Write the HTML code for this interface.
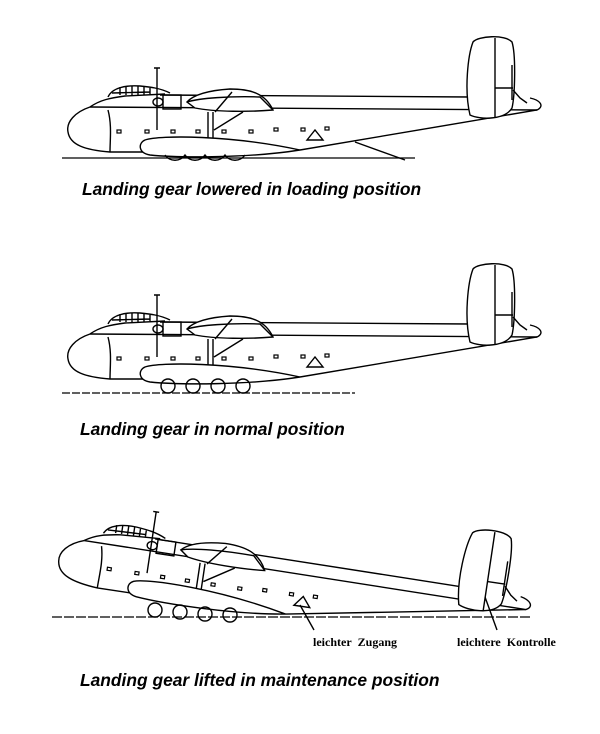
<!DOCTYPE html>
<html><head><meta charset="utf-8"><style>
html,body{margin:0;padding:0;background:#fff;}
.c{position:relative;width:600px;height:734px;overflow:hidden;}
svg{position:absolute;left:0;top:0;}
.cap{position:absolute;font-family:"Liberation Sans",sans-serif;font-weight:bold;font-style:italic;font-size:17.4px;color:#000;white-space:nowrap;}
.de{position:absolute;font-family:"Liberation Serif",serif;font-weight:bold;font-size:12px;color:#000;white-space:nowrap;}
</style></head><body><div class="c">
<svg width="600" height="734" viewBox="0 0 600 734">
<defs>
<g id="plane" fill="none" stroke="#000" stroke-width="1.4">
 <path d="M90,107 C75,112 66,122 68,132 C70,145 85,150 110,152 L145,152" fill="#fff"/>
 <path d="M90,107 C100,100 110,98 125,96 L165,94"/>
 <path d="M90,107 L537,110"/>
 <path d="M160,95 L470,97"/>
 <path d="M300,150 L537,110 C545,106 540,100 530,98"/>
 <path d="M108,110 C112,125 110,140 110,152"/>
 <path d="M108,97 C112,88 125,85 140,86 C150,87 160,88 170,93" />
 <path d="M112,93 L150,92 M120,87 L120,95 M126,86 L126,95 M132,86 L132,95 M138,86 L138,95 M144,87 L144,95 M150,88 L150,94"/>
 <path d="M157,68 L157,130 M154,68 L160,68"/>
 <rect x="163" y="95" width="18" height="14"/>
 <ellipse cx="158" cy="102" rx="5" ry="4"/>
 <path d="M187,102 C195,93 215,90 230,89 C250,89 265,93 273,110 C250,112 215,112 195,108 Z" fill="#fff"/>
 <path d="M187,102 C200,98 230,96 260,97 L273,110"/>
 <path d="M232,92 L215,112"/>
 <path d="M208,112 L208,145 M213,112 L213,145 M214,130 L243,112"/>
 <path d="M145,140 C160,135 230,135 300,150 C250,158 180,158 150,155 C138,153 138,143 145,140 Z" fill="#fff"/>
 <g stroke-width="1.2">
 <rect x="117" y="130" width="4" height="3"/><rect x="145" y="130" width="4" height="3"/>
 <rect x="171" y="130" width="4" height="3"/><rect x="196" y="130" width="4" height="3"/>
 <rect x="222" y="130" width="4" height="3"/><rect x="249" y="130" width="4" height="3"/>
 <rect x="274" y="128" width="4" height="3"/><rect x="301" y="128" width="4" height="3"/>
 <rect x="325" y="127" width="4" height="3"/>
 </g>
 <path d="M307,140 L315,130 L323,140 Z"/>
 <path d="M470,115 C464,90 468,55 473,42 C478,36 505,34 512,42 C516,55 515,95 512,108 C505,120 480,120 470,115 Z" fill="#fff"/>
 <path d="M495,38 L495,118 M495,88 L513,88 M512,65 L512,100"/>
 <path d="M513,90 L520,98 L527,103"/>
</g>
</defs>
<use href="#plane"/>
<path d="M355,142 L405,160" stroke="#000" stroke-width="1.4" fill="none"/>
<path d="M62,158 L415,158" stroke="#000" stroke-width="1.3"/>
<g fill="none" stroke="#000" stroke-width="1.4">
 <path d="M165,155 C170,162 180,162 185,155 C190,162 200,162 205,155 C210,162 220,162 225,155 C230,162 240,162 245,155"/>
</g>
<use href="#plane" transform="translate(0,227)"/>
<path d="M62,393 L355,393" stroke="#000" stroke-width="1.2" stroke-dasharray="8,2"/>
<g fill="none" stroke="#000" stroke-width="1.4">
 <circle cx="168" cy="386" r="7"/><circle cx="193" cy="386" r="7"/>
 <circle cx="218" cy="386" r="7"/><circle cx="243" cy="386" r="7"/>
</g>
<use href="#plane" transform="translate(-9,430) rotate(8.5,68,130)"/>
<path d="M52,617 L530,617" stroke="#000" stroke-width="1.2" stroke-dasharray="10,2"/>
<g fill="none" stroke="#000" stroke-width="1.4">
 <circle cx="155" cy="610" r="7"/><circle cx="180" cy="612" r="7"/>
 <circle cx="205" cy="614" r="7"/><circle cx="230" cy="615" r="7"/>
 <path d="M300,605 L314,630 M485,597 L497,630"/>
</g>
</svg>
<div class="cap" style="left:82px;top:179px;">Landing gear lowered in loading position</div>
<div class="cap" style="left:80px;top:419px;">Landing gear in normal position</div>
<div class="cap" style="left:80px;top:670px;">Landing gear lifted in maintenance position</div>
<div class="de" style="left:313px;top:635px;">leichter&nbsp;&nbsp;Zugang</div>
<div class="de" style="left:457px;top:635px;">leichtere&nbsp;&nbsp;Kontrolle</div>
</div></body></html>
